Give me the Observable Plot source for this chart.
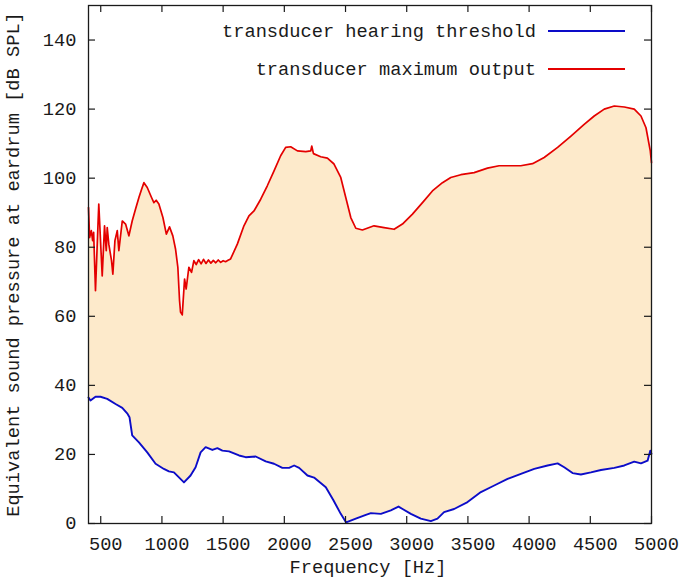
<!DOCTYPE html>
<html>
<head>
<meta charset="utf-8">
<script src="https://cdn.jsdelivr.net/npm/d3@7"></script>
<script src="https://cdn.jsdelivr.net/npm/@observablehq/plot@0.6"></script>
<style>
  html, body { margin: 0; padding: 0; background: #fff; }
</style>
</head>
<body>
<div id="chart"></div>
<script>
// ---- data ----
const redFreq = [400,409,423,434,442,457,484,512,531,545,553,566,588,599,616,635,648,676,703,730,757,784,812,834,853,880,915,934,953,975,1008,1036,1062,1089,1111,1130,1144,1152,1166,1185,1198,1220,1242,1261,1280,1300,1320,1340,1360,1380,1400,1420,1440,1460,1480,1500,1520,1540,1561,1616,1670,1711,1752,1807,1861,1916,1970,2011,2052,2107,2175,2216,2224,2238,2297,2352,2406,2461,2502,2543,2584,2638,2733,2815,2897,2965,3047,3129,3210,3292,3360,3442,3551,3660,3755,3796,3932,4028,4123,4233,4342,4450,4532,4614,4696,4778,4859,4914,4955,4990,5000];
const redDb = [91.5,82.8,84.8,81.9,84.3,67.4,92.5,71.7,86.2,79.0,85.7,80.9,76.1,72.2,81.9,84.8,79.0,87.6,86.7,83.3,87.6,91.0,94.4,96.8,98.7,97.3,94.4,92.9,93.6,92.5,88.6,83.8,85.9,83.3,79.5,74.2,64.5,61.2,60.4,70.8,67.9,74.2,72.7,76.1,75.0,76.4,75.2,76.5,75.3,76.3,75.4,76.2,75.5,76.3,75.6,76.1,75.8,76.2,76.6,80.9,86.2,89.1,90.5,93.9,97.8,102.1,106.5,108.9,109.1,107.9,107.7,107.9,109.3,107.1,106.2,105.8,104.1,100.2,94.4,88.6,85.5,85.0,86.2,85.7,85.2,86.7,89.6,92.9,96.3,98.7,100.2,101.0,101.6,102.9,103.6,103.6,103.6,104.2,106.0,108.9,112.2,115.6,118.0,120.0,120.9,120.6,120.0,118.0,114.6,107.9,104.5];

const blueFreq = [400,416,457,498,553,621,676,716,735,757,812,880,948,1016,1057,1098,1180,1234,1275,1316,1357,1412,1453,1494,1548,1630,1684,1766,1848,1916,1984,2039,2080,2121,2189,2243,2339,2400,2461,2505,2584,2666,2707,2789,2870,2933,2966,3034,3115,3197,3251,3305,3387,3497,3606,3715,3824,3933,4042,4151,4233,4287,4355,4423,4505,4587,4696,4778,4859,4914,4968,4990,5000];
const blueDb = [36.5,35.6,36.7,36.7,36.1,34.6,33.5,31.9,30.8,25.5,23.5,20.6,17.3,15.8,15.1,14.8,11.9,13.9,16.3,20.6,22.1,21.3,21.8,21.1,20.9,19.7,19.2,19.4,18.0,17.3,16.1,16.1,16.8,16.1,13.9,13.3,10.5,6.8,2.8,0.3,1.4,2.5,3.0,2.8,3.8,4.9,4.2,2.8,1.4,0.7,1.4,3.3,4.2,6.2,9.1,11.0,12.9,14.4,15.8,16.8,17.4,16.3,14.6,14.2,14.8,15.5,16.1,16.8,17.9,17.4,18.2,21.1,20.2];

const xTicks = [500,1000,1500,2000,2500,3000,3500,4000,4500,5000];
const yTicks = [0,20,40,60,80,100,120,140];
const xDomain = [400, 5000];
const yDomain = [0, 150];
const xLabel = "Frequency [Hz]";
const yLabel = "Equivalent sound pressure at eardrum [dB SPL]";
const seriesNames = ["transducer hearing threshold", "transducer maximum output"];

// ---- build tables ----
const red = redFreq.map((f, i) => ({f, v: redDb[i]}));
const blue = blueFreq.map((f, i) => ({f, v: blueDb[i]}));

const W = 682, H = 585;
const mL = 88, mR = 31, mT = 5, mB = 62;
const frameW = W - mL - mR, frameH = H - mT - mB;
const tickLen = 7;
const redColor = "#e40000", blueColor = "#0c0cc8", fillColor = "#fdeacb", ink = "#1a1a1a";

const chart = Plot.plot({
  width: W, height: H,
  marginLeft: mL, marginRight: mR, marginTop: mT, marginBottom: mB,
  style: {fontFamily: "'Liberation Mono', 'DejaVu Sans Mono', monospace", fontSize: "18.7px", color: ink, background: "#fff"},
  x: {domain: xDomain, axis: null},
  y: {domain: yDomain, axis: null},
  marks: [
    Plot.areaY(red, {x: "f", y: "v", fill: fillColor}),
    Plot.areaY(blue, {x: "f", y: "v", fill: "#ffffff"}),
    Plot.line(red, {x: "f", y: "v", stroke: redColor, strokeWidth: 1.7}),
    Plot.line(blue, {x: "f", y: "v", stroke: blueColor, strokeWidth: 1.9}),
    // inward ticks on all four sides
    Plot.tickX(xTicks, {x: d => d, insetTop: frameH - tickLen, stroke: ink, strokeWidth: 1.2}),
    Plot.tickX(xTicks, {x: d => d, insetBottom: frameH - tickLen, stroke: ink, strokeWidth: 1.2}),
    Plot.tickY(yTicks, {y: d => d, insetRight: frameW - tickLen, stroke: ink, strokeWidth: 1.2}),
    Plot.tickY(yTicks, {y: d => d, insetLeft: frameW - tickLen, stroke: ink, strokeWidth: 1.2}),
    Plot.frame({stroke: ink, strokeWidth: 1.3}),
    // tick labels
    Plot.axisX(xTicks, {anchor: "bottom", tickSize: 0, tickPadding: 13.5, dx: 5, label: null, tickFormat: d => String(d), fill: ink}),
    Plot.axisY(yTicks, {anchor: "left", tickSize: 0, tickPadding: 12, label: null, tickFormat: d => String(d), fill: ink}),
    // axis titles
    Plot.text([xLabel], {frameAnchor: "bottom", textAnchor: "middle", dy: 49, dx: -2, text: d => d, fill: ink}),
    Plot.text([yLabel], {frameAnchor: "left", textAnchor: "middle", lineAnchor: "middle", dx: -75, rotate: -90, text: d => d, fill: ink})
  ]
});

// legend (inside top-right of the frame)
const svg = d3.select(chart);
const legend = svg.append("g").attr("font-family", "'Liberation Mono', monospace").attr("font-size", "18.7px");
const legendItems = [
  {name: seriesNames[0], color: blueColor, y: 31},
  {name: seriesNames[1], color: redColor, y: 69}
];
legendItems.forEach(it => {
  legend.append("text").attr("x", 536).attr("y", it.y).attr("dy", "0.32em")
    .attr("text-anchor", "end").attr("fill", ink).text(it.name);
  legend.append("line").attr("x1", 548).attr("x2", 625).attr("y1", it.y).attr("y2", it.y)
    .attr("stroke", it.color).attr("stroke-width", 1.8);
});

document.getElementById("chart").appendChild(chart);
</script>
</body>
</html>
